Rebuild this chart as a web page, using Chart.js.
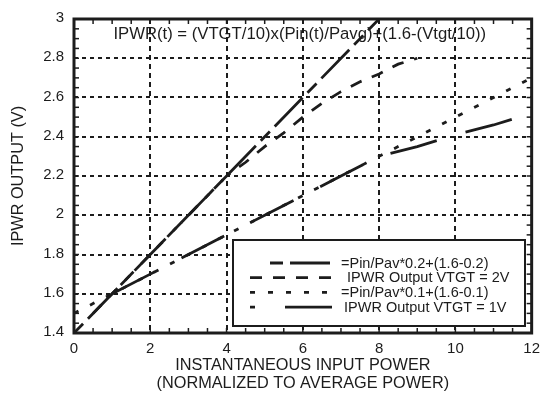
<!DOCTYPE html>
<html><head><meta charset="utf-8">
<script src="https://cdn.jsdelivr.net/npm/chart.js@4/dist/chart.umd.min.js"></script>
<style>html,body{margin:0;padding:0;background:#fff}#wrap{width:547px;height:396px;position:relative}</style>
</head><body><div id="wrap"><canvas id="c" width="547" height="396"></canvas></div>
<script>
// ---- data ----
const xTicks = [0, 2, 4, 6, 8, 10, 12];
const yTicks = [1.4, 1.6, 1.8, 2, 2.2, 2.4, 2.6, 2.8, 3];
const seriesNames = ["=Pin/Pav*0.2+(1.6-0.2)", "IPWR Output VTGT = 2V", "=Pin/Pav*0.1+(1.6-0.1)", "IPWR Output VTGT = 1V"];
const calc2X = [0, 2, 4, 6, 8];
const calc2Y = [1.4, 1.8, 2.2, 2.6, 3.0];
const meas2X = [0.5, 1, 2, 3, 4, 4.5, 5, 5.5, 6, 6.5, 7, 7.5, 8, 8.5, 9];
const meas2Y = [1.5, 1.6, 1.8, 2.0, 2.2, 2.27, 2.35, 2.42, 2.5, 2.57, 2.63, 2.68, 2.72, 2.77, 2.80];
const calc1X = [0, 2, 4, 6, 8, 10, 12];
const calc1Y = [1.5, 1.7, 1.9, 2.1, 2.3, 2.5, 2.7];
const meas1X = [1, 2, 3, 4, 5, 6, 7, 8, 9, 10, 11, 12];
const meas1Y = [1.6, 1.7, 1.8, 1.9, 2.0, 2.1, 2.2, 2.3, 2.35, 2.41, 2.46, 2.52];
const formulaText = "IPWR(t) = (VTGT/10)x(Pin(t)/Pavg)+(1.6-(Vtgt/10))";
const xTitle = ["INSTANTANEOUS INPUT POWER", "(NORMALIZED TO AVERAGE POWER)"];
const yTitle = "IPWR OUTPUT (V)";

// ---- styling ----
const INK = '#1c1c1c';
const FONT = "'Liberation Sans', Arial, Helvetica, sans-serif";
const pts = (xs, ys) => xs.map((v, i) => ({x: v, y: ys[i]}));

const styles = [
  {dash: [13, 7, 40, 7], legendStart: 270, legendOffset: 0, textX: 341},
  {dash: [12, 11], legendStart: 250, legendOffset: 0, textX: 347},
  {dash: [5, 13], legendStart: 250, legendOffset: 0, textX: 341},
  {dash: [48, 30], legendStart: 250, legendOffset: 43, textX: 344}
];
const seriesData = [pts(calc2X, calc2Y), pts(meas2X, meas2Y), pts(calc1X, calc1Y), pts(meas1X, meas1Y)];

const datasets = seriesNames.map((n, i) => ({
  label: n,
  data: seriesData[i],
  borderColor: INK,
  borderWidth: 2.8,
  borderDash: styles[i].dash,
  pointRadius: 0,
  fill: false,
  tension: 0
}));

const decor = {
  id: 'decor',
  afterDatasetsDraw(chart) {
    const {ctx, chartArea: a, scales: {x, y}} = chart;
    const ln = (x1, y1, x2, y2) => { ctx.beginPath(); ctx.moveTo(x1, y1); ctx.lineTo(x2, y2); ctx.stroke(); };
    ctx.save();
    ctx.setLineDash([]);
    ctx.strokeStyle = INK;
    ctx.lineWidth = 1.5;
    // minor ticks, inward, all four sides
    for (let k = 0; k <= 24; k++) {
      const px = x.getPixelForValue(k * 0.5);
      ln(px, a.bottom, px, a.bottom - 5);
      ln(px, a.top, px, a.top + 5);
    }
    for (let k = 0; k <= 32; k++) {
      const py = y.getPixelForValue(1.4 + k * 0.05);
      ln(a.left, py, a.left + 5, py);
      ln(a.right, py, a.right - 5, py);
    }
    // frame
    ctx.lineWidth = 3;
    ctx.strokeRect(a.left, a.top, a.right - a.left, a.bottom - a.top);
    // formula
    ctx.fillStyle = INK;
    ctx.font = "16.7px " + FONT;
    ctx.textAlign = 'center';
    ctx.textBaseline = 'middle';
    ctx.fillText(formulaText, x.getPixelForValue(5.92), 34);
    // legend
    const bx = 233, by = 240, bw = 292, bh = 86;
    ctx.fillStyle = '#fff';
    ctx.fillRect(bx, by, bw, bh);
    ctx.lineWidth = 2;
    ctx.strokeRect(bx, by, bw, bh);
    ctx.font = "14.5px " + FONT;
    ctx.textAlign = 'left';
    chart.data.datasets.forEach((d, i) => {
      const ry = 263 + i * 14.7;
      const st = styles[i];
      ctx.lineWidth = 2.8;
      ctx.setLineDash(st.dash);
      ctx.lineDashOffset = st.legendOffset;
      ctx.strokeStyle = INK;
      ln(st.legendStart, ry, 332, ry);
      ctx.setLineDash([]);
      ctx.lineDashOffset = 0;
      ctx.fillStyle = INK;
      ctx.fillText(d.label, st.textX, ry + 0.5);
    });
    ctx.restore();
  }
};

new Chart(document.getElementById('c'), {
  type: 'line',
  data: {datasets},
  options: {
    responsive: false,
    animation: false,
    devicePixelRatio: 1,
    layout: {padding: {left: 0, right: 9, top: 15, bottom: 0}},
    plugins: {legend: {display: false}, tooltip: {enabled: false}},
    scales: {
      x: {
        type: 'linear', min: 0, max: 12,
        afterBuildTicks: s => { s.ticks = xTicks.map(v => ({value: v})); },
        afterFit: s => { s.height = 63; },
        ticks: {color: INK, font: {family: FONT, size: 15}, padding: 7, maxRotation: 0, autoSkip: false},
        grid: {color: INK, lineWidth: 2, drawTicks: false},
        border: {display: false, dash: [5, 4]},
        title: {display: true, text: xTitle, color: INK, font: {family: FONT, size: 16.3, lineHeight: 1.12}, padding: {top: 0, bottom: 3}}
      },
      y: {
        type: 'linear', min: 1.4, max: 3,
        afterBuildTicks: s => { s.ticks = yTicks.map(v => ({value: v})); },
        afterFit: s => { s.width = 74; },
        ticks: {color: INK, font: {family: FONT, size: 15}, padding: 10, labelOffset: -1, autoSkip: false, callback: v => String(+v.toFixed(1))},
        grid: {color: INK, lineWidth: 2, drawTicks: false},
        border: {display: false, dash: [4, 4]},
        title: {display: true, text: yTitle, color: INK, font: {family: FONT, size: 16.3, lineHeight: 1.12}, padding: {top: 9, bottom: 0}}
      }
    }
  },
  plugins: [decor]
});
</script>
</body></html>
